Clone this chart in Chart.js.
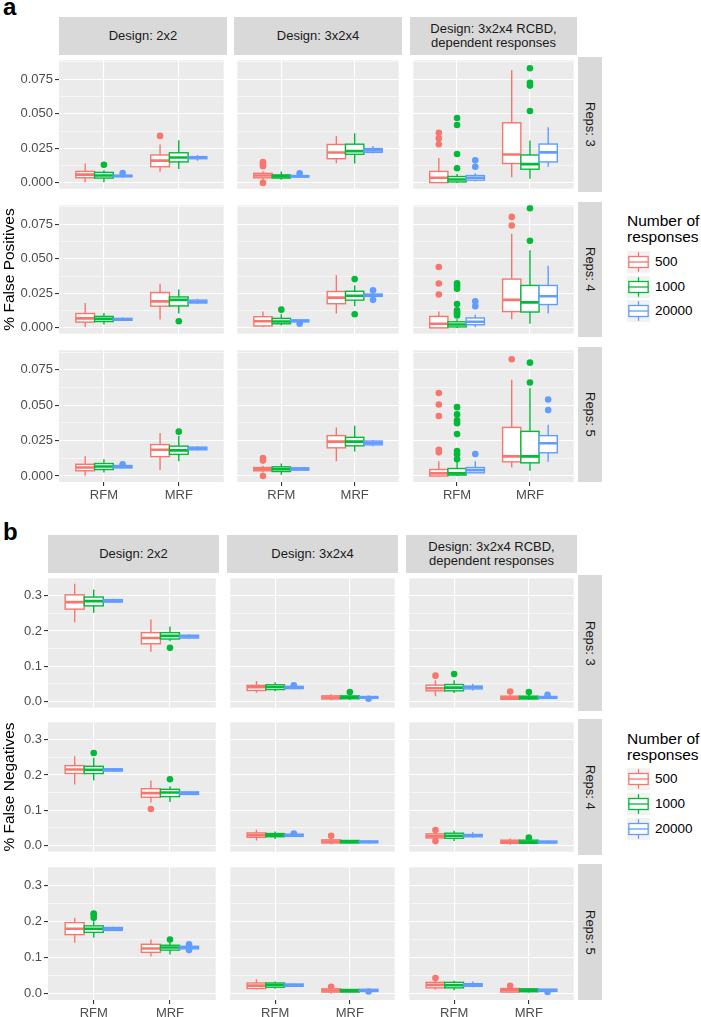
<!DOCTYPE html>
<html>
<head>
<meta charset="utf-8">
<script src="https://cdn.jsdelivr.net/npm/chart.js@4.4.1/dist/chart.umd.min.js"></script>
<style>
  body { margin: 0; background: #fff; width: 701px; height: 1017px; position: relative; overflow: hidden;
         font-family: "Liberation Sans", Arial, sans-serif; }
  canvas, .strip, .txt { position: absolute; }
  .strip { background: #d9d9d9; color: #1a1a1a; font-size: 13px; line-height: 14px;
           display: flex; align-items: center; justify-content: center; text-align: center; }
  .vstrip span { writing-mode: vertical-rl; white-space: nowrap; }
  .txt { white-space: nowrap; }
</style>
</head>
<body>
<script>
// ---- labels ----
var designs = [['Design: 2x2'], ['Design: 3x2x4'], ['Design: 3x2x4 RCBD,', 'dependent responses']];
var repsLabels = ['Reps: 3', 'Reps: 4', 'Reps: 5'];
var methods = ['RFM', 'MRF'];
var groups = ['500', '1000', '20000'];
var groupColors = ['#F8766D', '#00BA38', '#619CFF'];

// ---- y axes ----
var fpTicks = [0, 0.025, 0.05, 0.075];
var fpMinor = [0.0125, 0.0375, 0.0625, 0.0875];
var fpRange = [-0.0042, 0.0887];
var fnTicks = [0, 0.1, 0.2, 0.3];
var fnMinor = [0.05, 0.15, 0.25];
var fnRange = [-0.0175, 0.3495];

// ---- box stats: [design][method][group] = [low whisker, Q1, median, Q3, high whisker] ----
// a) % false positives
var fpReps3 = [
  [[[0.0005, 0.0037, 0.006, 0.0083, 0.014], [0.0005, 0.0035, 0.0053, 0.0076, 0.0092], [0.0038, 0.0045, 0.005, 0.0055, 0.0065]],
   [[0.008, 0.0117, 0.0161, 0.0202, 0.0278], [0.0101, 0.0152, 0.0184, 0.0218, 0.0308], [0.016, 0.0175, 0.0182, 0.019, 0.0202]]],
  [[[0.002, 0.0037, 0.0053, 0.0069, 0.0085], [0.0023, 0.0035, 0.0047, 0.0058, 0.0083], [0.0035, 0.0042, 0.0048, 0.0053, 0.006]],
   [[0.0143, 0.0175, 0.022, 0.0278, 0.034], [0.014, 0.0207, 0.023, 0.028, 0.0359], [0.0214, 0.0221, 0.0235, 0.0248, 0.0267]]],
  [[[0, 0.0002, 0.0037, 0.0083, 0.018], [0, 0.0007, 0.0025, 0.0046, 0.0064], [0.001, 0.002, 0.0037, 0.0053, 0.007]],
   [[0.0041, 0.014, 0.0205, 0.0435, 0.0817], [0.003, 0.0099, 0.0136, 0.0202, 0.0306], [0.0117, 0.0152, 0.0221, 0.0281, 0.0403]]]
];
var fpReps4 = [
  [[[0.0007, 0.0042, 0.0069, 0.0104, 0.018], [0.0025, 0.0046, 0.0065, 0.0083, 0.0108], [0.005, 0.0055, 0.0062, 0.0069, 0.0075]],
   [[0.006, 0.0157, 0.0192, 0.0256, 0.0319], [0.0104, 0.0159, 0.0203, 0.0224, 0.0277], [0.0173, 0.018, 0.0189, 0.0201, 0.021]]],
  [[[0.0005, 0.0014, 0.0048, 0.0081, 0.0118], [0.0018, 0.003, 0.0046, 0.0069, 0.0099], [0.004, 0.0044, 0.005, 0.0058, 0.006]],
   [[0.0104, 0.0175, 0.0219, 0.0263, 0.0381], [0.0157, 0.0201, 0.0233, 0.0265, 0.0307], [0.0225, 0.0228, 0.0235, 0.0245, 0.025]]],
  [[[0, 0, 0.003, 0.0083, 0.0118], [0, 0.0007, 0.0025, 0.0044, 0.0062], [0.0005, 0.0023, 0.0044, 0.0072, 0.0095]],
   [[0.0062, 0.0118, 0.0203, 0.0353, 0.0681], [0.003, 0.0115, 0.0185, 0.0307, 0.0561], [0.0104, 0.0169, 0.0229, 0.0307, 0.045]]]
];
var fpReps5 = [
  [[[0.0002, 0.0037, 0.006, 0.0083, 0.0139], [0.0025, 0.0046, 0.0067, 0.0088, 0.0118], [0.0055, 0.0058, 0.0065, 0.0074, 0.0078]],
   [[0.0042, 0.0137, 0.0185, 0.0222, 0.0303], [0.0104, 0.0153, 0.0181, 0.0211, 0.0285], [0.018, 0.0185, 0.0194, 0.0204, 0.021]]],
  [[[0.0025, 0.0037, 0.0049, 0.006, 0.0072], [0.0009, 0.0032, 0.0049, 0.0065, 0.0088], [0.004, 0.0042, 0.005, 0.0058, 0.006]],
   [[0.0104, 0.0199, 0.0243, 0.0285, 0.0343], [0.0174, 0.0213, 0.0243, 0.0273, 0.0354], [0.021, 0.022, 0.0234, 0.0247, 0.0255]]],
  [[[0, 0, 0.0019, 0.0046, 0.0104], [0, 0.0007, 0.0019, 0.0053, 0.01], [0.0019, 0.0023, 0.0042, 0.006, 0.0104]],
   [[0.006, 0.01, 0.0139, 0.0343, 0.0679], [0.0037, 0.0093, 0.0139, 0.0315, 0.062], [0.01, 0.0164, 0.0231, 0.0285, 0.0361]]]
];
// outliers: [design, method, group, value]
var fpOut3 = [[0,0,1,0.0131],[0,0,2,0.0072],[0,1,0,0.034],[1,0,0,0.015],[1,0,0,0.0135],[1,0,0,0.012],[1,0,0,0.0],
  [1,0,2,0.007],[2,0,0,0.0363],[2,0,0,0.0322],[2,0,0,0.028],[2,0,1,0.047],[2,0,1,0.0419],[2,0,1,0.0209],[2,0,1,0.0106],
  [2,0,2,0.0163],[2,0,2,0.0117],[2,1,1,0.083],[2,1,1,0.0725],[2,1,1,0.0704],[2,1,1,0.052]];
var fpOut4 = [[0,1,1,0.0048],[1,0,1,0.0132],[1,0,2,0.003],[1,1,1,0.0353],[1,1,1,0.0099],[1,1,2,0.0272],[1,1,2,0.0203],
  [2,0,0,0.0441],[2,0,0,0.0321],[2,0,0,0.0242],[2,0,1,0.0323],[2,0,1,0.0305],[2,0,1,0.0284],[2,0,1,0.0173],[2,0,1,0.0127],
  [2,0,1,0.0115],[2,0,1,0.0104],[2,0,1,0.009],[2,0,2,0.0192],[2,0,2,0.0157],[2,1,0,0.0803],[2,1,0,0.0741],[2,1,1,0.0866],[2,1,1,0.063]];
var fpOut5 = [[0,0,2,0.0083],[0,1,1,0.0313],[1,0,0,0.0127],[1,0,0,0.0109],[1,0,0,0.0],[2,0,0,0.0586],[2,0,0,0.0505],
  [2,0,0,0.0424],[2,0,0,0.0185],[2,0,0,0.0167],[2,0,1,0.0486],[2,0,1,0.0435],[2,0,1,0.0394],[2,0,1,0.0373],[2,0,1,0.0296],
  [2,0,1,0.0176],[2,0,1,0.0153],[2,0,1,0.0118],[2,0,2,0.0155],[2,1,0,0.0824],[2,1,1,0.080],[2,1,1,0.066],[2,1,2,0.054],[2,1,2,0.0465]];

// b) % false negatives
var fnReps3 = [
  [[[0.2247, 0.262, 0.282, 0.3026, 0.334], [0.2516, 0.2713, 0.2847, 0.2963, 0.3178], [0.2811, 0.282, 0.2856, 0.289, 0.2918]],
   [[0.1414, 0.1638, 0.18, 0.1952, 0.2328], [0.171, 0.1773, 0.1862, 0.1952, 0.2131], [0.178, 0.18, 0.1844, 0.188, 0.191]]],
  [[[0.0251, 0.0313, 0.0403, 0.0457, 0.0582], [0.0295, 0.034, 0.0412, 0.0475, 0.0546], [0.035, 0.0367, 0.04, 0.043, 0.045]],
   [[0.0027, 0.0072, 0.0116, 0.0161, 0.0206], [0.004, 0.008, 0.012, 0.016, 0.02], [0.008, 0.0095, 0.012, 0.0142, 0.016]]],
  [[[0.0152, 0.0304, 0.0376, 0.0465, 0.06], [0.0242, 0.0304, 0.0394, 0.0483, 0.06], [0.0313, 0.0358, 0.0403, 0.0438, 0.0501]],
   [[0.0036, 0.0063, 0.0107, 0.0152, 0.0197], [0.004, 0.0072, 0.0112, 0.0152, 0.0197], [0.007, 0.009, 0.0116, 0.0143, 0.016]]]
];
var fnReps4 = [
  [[[0.1728, 0.2042, 0.2158, 0.2265, 0.2534], [0.1844, 0.2041, 0.2149, 0.2247, 0.2489], [0.21, 0.2113, 0.2145, 0.2175, 0.219]],
   [[0.1218, 0.137, 0.1486, 0.1611, 0.1844], [0.1235, 0.1388, 0.1504, 0.1594, 0.1683], [0.1435, 0.145, 0.1486, 0.152, 0.154]]],
  [[[0.0143, 0.0233, 0.0295, 0.0358, 0.0448], [0.0188, 0.025, 0.0295, 0.034, 0.04], [0.025, 0.026, 0.029, 0.0322, 0.033]],
   [[0.0027, 0.0072, 0.0116, 0.0161, 0.0224], [0.005, 0.0072, 0.011, 0.0143, 0.016], [0.006, 0.008, 0.0105, 0.0126, 0.014]]],
  [[[0.0152, 0.0215, 0.0268, 0.0331, 0.0376], [0.0125, 0.0206, 0.0277, 0.0349, 0.042], [0.0224, 0.025, 0.0286, 0.0313, 0.0376]],
   [[0.0018, 0.0063, 0.0107, 0.0152, 0.0197], [0.004, 0.0063, 0.01, 0.0152, 0.018], [0.005, 0.0072, 0.01, 0.0125, 0.014]]]
];
var fnReps5 = [
  [[[0.141, 0.1634, 0.1795, 0.1964, 0.2098], [0.1545, 0.1696, 0.1795, 0.1875, 0.2], [0.1735, 0.175, 0.1786, 0.183, 0.185]],
   [[0.1027, 0.1143, 0.125, 0.1366, 0.15], [0.108, 0.1205, 0.1277, 0.1339, 0.1429], [0.122, 0.124, 0.1277, 0.131, 0.133]]],
  [[[0.0116, 0.0143, 0.0223, 0.0295, 0.0402], [0.0134, 0.0179, 0.0241, 0.0295, 0.0339], [0.019, 0.0205, 0.0232, 0.0268, 0.028]],
   [[0, 0.0045, 0.0089, 0.0134, 0.015], [0.003, 0.0045, 0.008, 0.0116, 0.013], [0.004, 0.006, 0.0096, 0.012, 0.013]]],
  [[[0.0116, 0.0161, 0.0242, 0.0313, 0.0385], [0.0098, 0.0161, 0.0233, 0.0313, 0.0358], [0.018, 0.0206, 0.0242, 0.0277, 0.034]],
   [[0.0027, 0.0045, 0.0098, 0.0143, 0.0165], [0.003, 0.0054, 0.0094, 0.0134, 0.015], [0.005, 0.0063, 0.0094, 0.0125, 0.013]]]
];
var fnOut3 = [[0,1,1,0.1522],[1,0,2,0.0457],[1,1,1,0.027],[1,1,2,0.008],[2,0,0,0.0734],[2,0,1,0.0778],
  [2,1,0,0.0286],[2,1,1,0.0268],[2,1,2,0.0188]];
var fnOut4 = [[0,0,1,0.2623],[0,1,0,0.1038],[0,1,1,0.188],[1,0,2,0.034],[1,1,0,0.0278],[2,0,0,0.0438],[2,0,0,0.0125],[2,1,1,0.0224]];
var fnOut5 = [[0,0,1,0.2214],[0,0,1,0.2187],[0,0,1,0.2098],[0,1,1,0.15],[0,1,2,0.1366],[0,1,2,0.1205],[1,1,0,0.019],
  [1,1,2,0.006],[2,0,0,0.043],[2,1,0,0.022],[2,1,2,0.0045]];

Chart.defaults.font.family = '"Liberation Sans", Arial, sans-serif';

var figures = [
  { letter: 'a', letterTop: -5, stripTop: 17, cols: [59, 234, 410], widths: [168, 168, 167], rows: [57, 202, 347], height: 135,
    ticks: fpTicks, minor: fpMinor, range: fpRange, digits: 3, title: '% False Positives',
    boxes: [fpReps3, fpReps4, fpReps5], outs: [fpOut3, fpOut4, fpOut5], legendTop: 213, keyCenters: [262, 287, 311] },
  { letter: 'b', letterTop: 520, stripTop: 535, cols: [48, 227, 406], widths: [171, 171, 171], rows: [575, 719, 864], height: 136,
    ticks: fnTicks, minor: fnMinor, range: fnRange, digits: 1, title: '% False Negatives',
    boxes: [fnReps3, fnReps4, fnReps5], outs: [fnOut3, fnOut4, fnOut5], legendTop: 731, keyCenters: [779, 804, 829] }
];

var panelBg = {
  id: 'panelBg',
  beforeDraw: function(chart) {
    var a = chart.chartArea, ctx = chart.ctx;
    ctx.save();
    ctx.fillStyle = '#ebebeb';
    ctx.fillRect(a.left, a.top, a.right - a.left, a.bottom - a.top);
    ctx.restore();
  }
};

// draws whiskers, box and median with the chart's scales
var boxPlot = {
  id: 'boxPlot',
  afterDatasetsDraw: function(chart, args, opts) {
    var xs = chart.scales.x, ys = chart.scales.y, ctx = chart.ctx, a = chart.chartArea;
    ctx.save();
    ctx.beginPath();
    ctx.rect(a.left, a.top, a.right - a.left, a.bottom - a.top);
    ctx.clip();
    opts.list.forEach(function(b) {
      var s = b.stats;
      var cx = xs.getPixelForValue(b.x);
      var x0 = xs.getPixelForValue(b.x - 0.125), x1 = xs.getPixelForValue(b.x + 0.125);
      var lo = ys.getPixelForValue(s[0]), q1 = ys.getPixelForValue(s[1]), md = ys.getPixelForValue(s[2]);
      var q3 = ys.getPixelForValue(s[3]), hi = ys.getPixelForValue(s[4]);
      ctx.strokeStyle = b.color;
      ctx.lineWidth = 1.4;
      ctx.beginPath();
      ctx.moveTo(cx, hi); ctx.lineTo(cx, q3);
      ctx.moveTo(cx, q1); ctx.lineTo(cx, lo);
      ctx.stroke();
      ctx.fillStyle = '#fff';
      ctx.fillRect(x0, q3, x1 - x0, q1 - q3);
      ctx.strokeRect(x0, q3, x1 - x0, q1 - q3);
      ctx.lineWidth = 2.6;
      ctx.beginPath();
      ctx.moveTo(x0, md); ctx.lineTo(x1, md);
      ctx.stroke();
    });
    ctx.restore();
  }
};

function isOn(v, list) {
  return list.some(function(m) { return Math.abs(m - v) < 1e-9; });
}

function noPadding(s) {
  s.paddingTop = 0; s.paddingBottom = 0; s.paddingLeft = 0; s.paddingRight = 0;
}

function addDiv(cls, style, html) {
  var d = document.createElement('div');
  d.className = cls;
  d.setAttribute('style', style);
  d.innerHTML = html;
  document.body.appendChild(d);
  return d;
}

function makePanel(fig, r, c) {
  var leftAxis = c === 0 ? fig.cols[0] : 0;
  var bottomAxis = r === 2 ? 22 : 0;
  var w = fig.widths[c] + leftAxis, h = fig.height + bottomAxis;
  var cv = document.createElement('canvas');
  cv.width = w; cv.height = h;
  cv.style.left = (c === 0 ? 0 : fig.cols[c]) + 'px';
  cv.style.top = fig.rows[r] + 'px';
  cv.style.width = w + 'px'; cv.style.height = h + 'px';
  document.body.appendChild(cv);

  var stats = fig.boxes[r][c];
  var list = [];
  stats.forEach(function(byGroup, m) {
    byGroup.forEach(function(s, g) {
      list.push({ x: m + 1 + (g - 1) * 0.25, stats: s, color: groupColors[g] });
    });
  });
  var datasets = groups.map(function(name, g) {
    var pts = fig.outs[r].filter(function(o) { return o[0] === c && o[2] === g; })
      .map(function(o) { return { x: o[1] + 1 + (g - 1) * 0.25, y: o[3] }; });
    return { label: name, data: pts, backgroundColor: groupColors[g], borderWidth: 0, pointRadius: 3.3, pointHoverRadius: 3.3 };
  });
  var allY = fig.ticks.concat(fig.minor).sort(function(p, q) { return p - q; });

  new Chart(cv, {
    type: 'scatter',
    data: { datasets: datasets },
    options: {
      responsive: false, animation: false, events: [],
      layout: { padding: 0 },
      plugins: { legend: { display: false }, tooltip: { enabled: false }, boxPlot: { list: list } },
      scales: {
        x: {
          type: 'linear', min: 0.4, max: 2.6,
          afterBuildTicks: function(s) { s.ticks = methods.map(function(m, i) { return { value: i + 1 }; }); },
          afterFit: function(s) { s.height = bottomAxis; noPadding(s); },
          border: { display: false },
          grid: { color: '#ffffff', lineWidth: 1.1, tickColor: '#333333', tickLength: 4, drawTicks: r === 2 },
          ticks: { display: r === 2, autoSkip: false, maxRotation: 0, padding: 2, color: '#4d4d4d', font: { size: 13 },
                   callback: function(v) { return methods[Math.round(v) - 1]; } }
        },
        y: {
          type: 'linear', min: fig.range[0], max: fig.range[1],
          afterBuildTicks: function(s) { s.ticks = allY.map(function(v) { return { value: v }; }); },
          afterFit: function(s) { s.width = leftAxis; noPadding(s); },
          border: { display: false },
          grid: {
            color: '#ffffff',
            lineWidth: function(ctx) { return ctx.tick && isOn(ctx.tick.value, fig.ticks) ? 1.1 : 0.55; },
            tickColor: function(ctx) { return ctx.tick && isOn(ctx.tick.value, fig.ticks) ? '#333333' : 'rgba(0,0,0,0)'; },
            tickLength: 4, drawTicks: c === 0
          },
          ticks: { display: c === 0, autoSkip: false, padding: 2, color: '#4d4d4d', font: { size: 13 },
                   callback: function(v) { return isOn(v, fig.ticks) ? v.toFixed(fig.digits) : ''; } },
          title: { display: c === 0 && r === 1, text: fig.title, color: '#000000', font: { size: 15.5 }, padding: 0 }
        }
      }
    },
    plugins: [panelBg, boxPlot]
  });
}

function drawKey(cv, color) {
  var ctx = cv.getContext('2d'), w = cv.width, h = cv.height;
  ctx.fillStyle = '#f2f2f2';
  ctx.fillRect(0, 0, w, h);
  ctx.strokeStyle = color;
  ctx.lineWidth = 1.3;
  ctx.beginPath();
  ctx.moveTo(w / 2, h * 0.06); ctx.lineTo(w / 2, h * 0.25);
  ctx.moveTo(w / 2, h * 0.75); ctx.lineTo(w / 2, h * 0.94);
  ctx.stroke();
  ctx.fillStyle = '#fff';
  ctx.fillRect(w * 0.08, h * 0.25, w * 0.84, h * 0.5);
  ctx.strokeRect(w * 0.08, h * 0.25, w * 0.84, h * 0.5);
  ctx.beginPath();
  ctx.moveTo(w * 0.08, h * 0.5); ctx.lineTo(w * 0.92, h * 0.5);
  ctx.stroke();
}

figures.forEach(function(fig) {
  addDiv('txt', 'left:3px;top:' + fig.letterTop + 'px;font-size:24px;line-height:24px;font-weight:bold;color:#000;', fig.letter);
  designs.forEach(function(lines, c) {
    addDiv('strip', 'left:' + fig.cols[c] + 'px;top:' + fig.stripTop + 'px;width:' + fig.widths[c] + 'px;height:38px;', lines.join('<br>'));
  });
  repsLabels.forEach(function(lab, r) {
    addDiv('strip vstrip', 'left:578px;top:' + fig.rows[r] + 'px;width:24px;height:' + fig.height + 'px;', '<span>' + lab + '</span>');
  });
  for (var r = 0; r < 3; r++) {
    for (var c = 0; c < 3; c++) makePanel(fig, r, c);
  }
  // legend
  addDiv('txt', 'left:627px;top:' + fig.legendTop + 'px;font-size:15.5px;line-height:15.5px;color:#000;', 'Number of<br>responses');
  groups.forEach(function(g, i) {
    var cy = fig.keyCenters[i];
    var kc = document.createElement('canvas');
    kc.width = 23; kc.height = 22;
    kc.style.left = '627px'; kc.style.top = (cy - 11) + 'px';
    document.body.appendChild(kc);
    drawKey(kc, groupColors[i]);
    addDiv('txt', 'left:655px;top:' + (cy - 8) + 'px;font-size:13.5px;line-height:16px;color:#000;', g);
  });
});
</script>
</body>
</html>
